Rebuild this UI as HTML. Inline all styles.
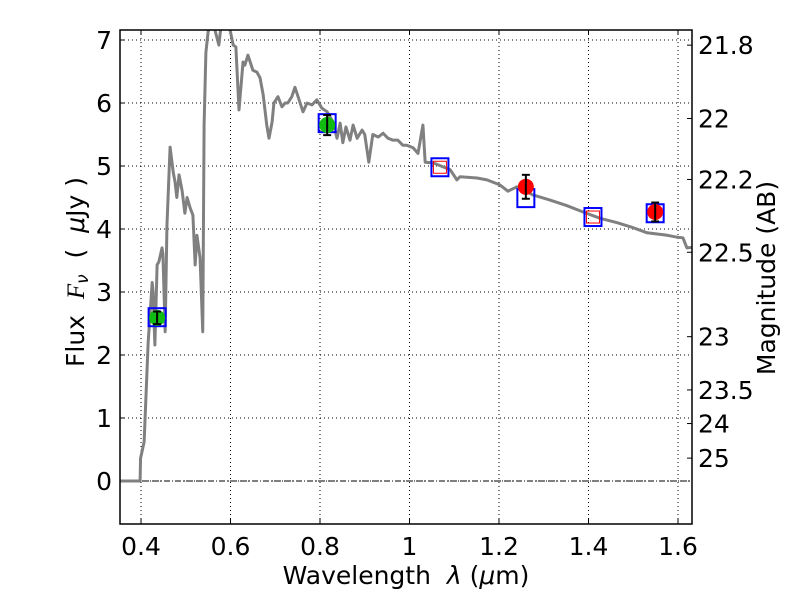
<!DOCTYPE html>
<html><head><meta charset="utf-8"><style>
body{margin:0;background:#fff}
text{font-family:"DejaVu Sans","Liberation Sans",sans-serif;font-size:25px;fill:#000;white-space:pre}
</style></head><body>
<svg id="chart" width="800" height="600" xmlns="http://www.w3.org/2000/svg"></svg>
<script>
const xTicks=[0.4,0.6,0.8,1,1.2,1.4,1.6];
const xTickLabels=["0.4","0.6","0.8","1","1.2","1.4","1.6"];
const yTicks=[0,1,2,3,4,5,6,7];
const magTicks=[21.8,22,22.2,22.5,23,23.5,24,25];
const magLabels=["21.8","22","22.2","22.5","23","23.5","24","25"];
const specWave=[0.353,0.398,0.399,0.407,0.416,0.425,0.427,0.431,0.436,0.44,0.447,0.449,0.454,0.458,0.465,0.472,0.476,0.48,0.485,0.492,0.498,0.503,0.51,0.516,0.521,0.525,0.532,0.538,0.541,0.545,0.55,0.56,0.574,0.58,0.595,0.606,0.612,0.619,0.628,0.632,0.639,0.65,0.659,0.666,0.673,0.681,0.686,0.693,0.697,0.706,0.715,0.722,0.728,0.737,0.744,0.751,0.762,0.771,0.782,0.793,0.804,0.816,0.829,0.838,0.845,0.851,0.858,0.867,0.874,0.883,0.894,0.9,0.909,0.918,0.93,0.941,0.952,0.963,0.974,0.985,0.994,1.008,1.019,1.03,1.035,1.053,1.091,1.106,1.113,1.151,1.173,1.202,1.22,1.24,1.276,1.314,1.352,1.388,1.426,1.464,1.5,1.531,1.576,1.598,1.611,1.62,1.633];
const specFlux=[0,0,0.36,0.62,2.2,3.15,3.0,2.16,3.43,3.48,3.7,3.6,2.37,4.06,5.3,4.9,4.75,4.5,4.86,4.6,4.25,4.5,4.33,4.22,3.43,3.9,3.54,2.37,5.65,6.8,7.13,7.3,6.92,7.3,7.3,6.92,6.89,5.89,6.65,6.6,6.76,6.52,6.49,6.4,6.13,5.65,5.44,5.7,6.0,6.1,5.94,6.0,6.0,6.1,6.25,6.1,5.86,6.0,5.97,6.05,5.92,5.86,5.7,5.44,5.68,5.37,5.62,5.41,5.65,5.44,5.57,5.5,5.06,5.5,5.46,5.52,5.44,5.41,5.41,5.33,5.33,5.29,5.2,5.65,5.06,5.05,4.94,4.78,4.83,4.81,4.78,4.7,4.6,4.67,4.54,4.46,4.37,4.27,4.17,4.1,4.02,3.94,3.9,3.87,3.86,3.7,3.71];
const obsWave=[0.436,0.816,1.26,1.549];
const obsFlux=[2.59,5.65,4.67,4.27];
const obsErr=[0.1,0.16,0.19,0.15];
const obsColor=["#11bb11","#11bb11","#ff0000","#ff0000"];
const modelWave=[0.436,0.816,1.068,1.26,1.41,1.549];
const modelFlux=[2.6,5.68,4.98,4.49,4.19,4.25];
const redBoxWave=[1.068,1.41];
const redBoxFlux=[4.98,4.19];

const L=120,R=692,T=30,B=524;
const X=v=>141+(v-0.4)*447.5;
const Y=v=>481-v*63;
const NS="http://www.w3.org/2000/svg";
const svg=document.getElementById('chart');
function mk(tag,attrs,parent){const e=document.createElementNS(NS,tag);for(const k in attrs)e.setAttribute(k,attrs[k]);(parent||svg).appendChild(e);return e;}
const clip=mk('clipPath',{id:'pc'});mk('rect',{x:L,y:T,width:R-L,height:B-T},clip);
const grid=mk('g',{});


xTicks.forEach((v,i)=>{
 mk('line',{x1:X(v),x2:X(v),y1:T,y2:B,stroke:'#000','stroke-dasharray':'1,3','stroke-width':1},grid);
 mk('line',{x1:X(v),x2:X(v),y1:B,y2:B-5,stroke:'#000'});mk('line',{x1:X(v),x2:X(v),y1:T,y2:T+5,stroke:'#000'});
 const t=mk('text',{x:X(v),y:B+31,'text-anchor':'middle'});t.textContent=xTickLabels[i];
 
 
});
yTicks.forEach(v=>{
 mk('line',{x1:L,x2:R,y1:Y(v),y2:Y(v),stroke:'#000','stroke-dasharray':'1,3','stroke-width':1},grid);
 mk('line',{x1:L,x2:L+5,y1:Y(v),y2:Y(v),stroke:'#000'});
 const t=mk('text',{x:L-8,y:Y(v)+9,'text-anchor':'end'});t.textContent=v;
 
 
});
magTicks.forEach((m,i)=>{
 const f=Math.pow(10,(23.9-m)/2.5);
 mk('line',{x1:R-5,x2:R,y1:Y(f),y2:Y(f),stroke:'#000'});
 const t=mk('text',{x:R+6,y:Y(f)+9});t.textContent=magLabels[i];
 
 
});
const zl=mk('line',{x1:L,x2:R,y1:Y(0),y2:Y(0),stroke:'#000','stroke-dasharray':'6,2,1,2','stroke-width':1});


const pg=mk('g',{'clip-path':'url(#pc)'});
const sp=mk('polyline',{points:specWave.map((w,i)=>X(w)+','+Y(specFlux[i])).join(' '),fill:'none',stroke:'#808080','stroke-width':3,'stroke-linejoin':'round'},pg);


modelWave.forEach((w,i)=>{
 const r=mk('rect',{x:X(w)-8.5,y:Y(modelFlux[i])-9,width:17,height:18,fill:'none',stroke:'#0000ff','stroke-width':2},pg);
 
 
});
redBoxWave.forEach((w,i)=>{
 const r=mk('rect',{x:X(w)-6.5,y:Y(redBoxFlux[i])-6,width:13,height:12,fill:'none',stroke:'#ff0000','stroke-width':1},pg);
 
 
});
obsWave.forEach((w,i)=>{
 const g=mk('g',{},pg);
 
 
 mk('circle',{cx:X(w),cy:Y(obsFlux[i]),r:8,fill:obsColor[i]},g);
 const y1=Y(obsFlux[i]+obsErr[i]),y2=Y(obsFlux[i]-obsErr[i]);
 mk('line',{x1:X(w),x2:X(w),y1:y1,y2:y2,stroke:'#000','stroke-width':2},g);
 mk('line',{x1:X(w)-4,x2:X(w)+4,y1:y1,y2:y1,stroke:'#000','stroke-width':2},g);
 mk('line',{x1:X(w)-4,x2:X(w)+4,y1:y2,y2:y2,stroke:'#000','stroke-width':2},g);
});
const fr=mk('rect',{x:L,y:T,width:R-L,height:B-T,fill:'none',stroke:'#000','stroke-width':1.5});


const xl=mk('text',{x:406,y:584,'text-anchor':'middle'});
xl.innerHTML='Wavelength  <tspan font-style="italic">λ</tspan> (<tspan font-style="italic">μ</tspan>m)';


const yl=mk('text',{x:84,y:272,'text-anchor':'middle',transform:'rotate(-90 84 272)'});
yl.innerHTML='Flux  <tspan font-style="italic" font-family="Liberation Serif">F</tspan><tspan font-size="17" dy="4" font-style="italic">ν</tspan><tspan dy="-4">  (  </tspan><tspan font-style="italic">μ</tspan>Jy )';


const ml=mk('text',{x:775,y:278,'text-anchor':'middle',transform:'rotate(-90 775 278)'});
ml.textContent='Magnitude (AB)';


</script>
</body></html>
